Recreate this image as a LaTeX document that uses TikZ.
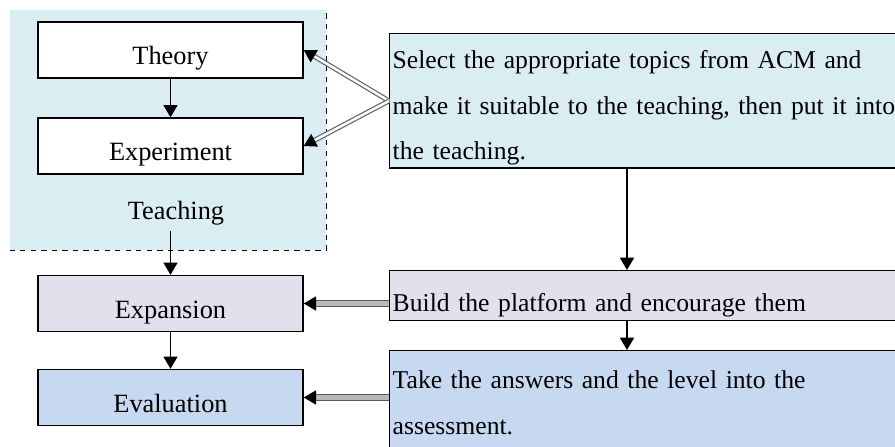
\documentclass[tikz,border=0pt]{standalone}
\usepackage{fontspec}
\setmainfont{Liberation Serif}
\usetikzlibrary{positioning, arrows.meta, calc}

\definecolor{paleblue}{HTML}{DAEDF3}
\definecolor{palelilac}{HTML}{E4DFEC}
\definecolor{softblue}{HTML}{C6D9F1}

\begin{document}
\begin{tikzpicture}[
    box/.style={
        rectangle,
        draw=black,
        fill=white,
        minimum width=5.3cm,
        inner ysep=0pt,
        text height=24.4pt,
        text depth=7.4pt,
        font=\fontsize{15}{18}\selectfont,
        align=center,
        line width=0.8pt
    },
    note/.style={
        rectangle,
        draw=black,
        anchor=north west,
        text width=11cm,
        align=left,
        inner xsep=0.06cm,
        inner ysep=0pt,
        font=\fontsize{14.6}{26}\selectfont,
        line width=0.8pt
    },
    region/.style={
        rectangle,
        fill=paleblue,
        minimum width=6.32cm,
        minimum height=4.8cm
    },
    arrow/.style={
        -{Triangle[width=8pt, length=7pt]},
        line width=0.8pt,
        color=black
    },
    dblarrow/.style={
        -{Triangle[width=8pt, length=7pt, black]},
        draw=gray!80!black,
        double=white,
        double distance=1.4pt,
        line width=0.7pt
    },
    bararrow/.style={
        -{Triangle[width=8pt, length=7pt, black]},
        draw=gray!70!black,
        double=gray!55,
        double distance=2.6pt,
        line width=0.7pt
    }
]
\useasboundingbox (0,0) rectangle (17.9,8.92);

% Teaching block (left, dashed)
\node[region] (teaching) at (3.36, 6.32) {};
\draw[dashed, line width=0.8pt] (teaching.south west) -- (teaching.south east) -- (teaching.north east);

\node[box] (theory) at (3.41, 7.92) {Theory};
\node[box] (exper)  at (3.41, 6.00) {Experiment};
\node[font=\fontsize{15}{18}\selectfont] (teachlbl) at (3.52, 4.66) {Teaching};

\node[box, fill=palelilac] (expa) at (3.41, 2.85) {Expansion};
\node[box, fill=softblue]  (eval) at (3.41, 0.97) {Evaluation};

% Right-hand notes
\node[note, fill=paleblue, text height=19.8pt, text depth=56.7pt] (sel) at (7.78, 8.26)
    {Select the appropriate topics from ACM and\\
     make it suitable to the teaching, then put it into\\
     the teaching.};
\node[note, fill=palelilac, text height=23.2pt, text depth=5.1pt] (build) at (7.78, 3.52)
    {Build the platform and encourage them};
\node[note, fill=softblue, text height=21.5pt, text depth=34pt] (take) at (7.78, 1.92)
    {Take the answers and the level into the\\
     assessment.};

% Vertical flow
\draw[arrow] (theory.south) -- (exper.north);
\draw[arrow] (teachlbl.south -| expa.north) -- (expa.north);
\draw[arrow] (expa.south) -- (eval.north);
\draw[arrow] (12.54, 0 |- sel.south) -- (12.54, 0 |- build.north);
\draw[arrow] (12.54, 0 |- build.south) -- (12.54, 0 |- take.north);

% Notes -> left column
\draw[dblarrow] (sel.west) -- (theory.east);
\draw[dblarrow] (sel.west) -- (exper.east);
\draw[bararrow] (build.west |- expa.east) -- (expa.east);
\draw[bararrow] (take.west |- eval.east) -- (eval.east);

\end{tikzpicture}
\end{document}
